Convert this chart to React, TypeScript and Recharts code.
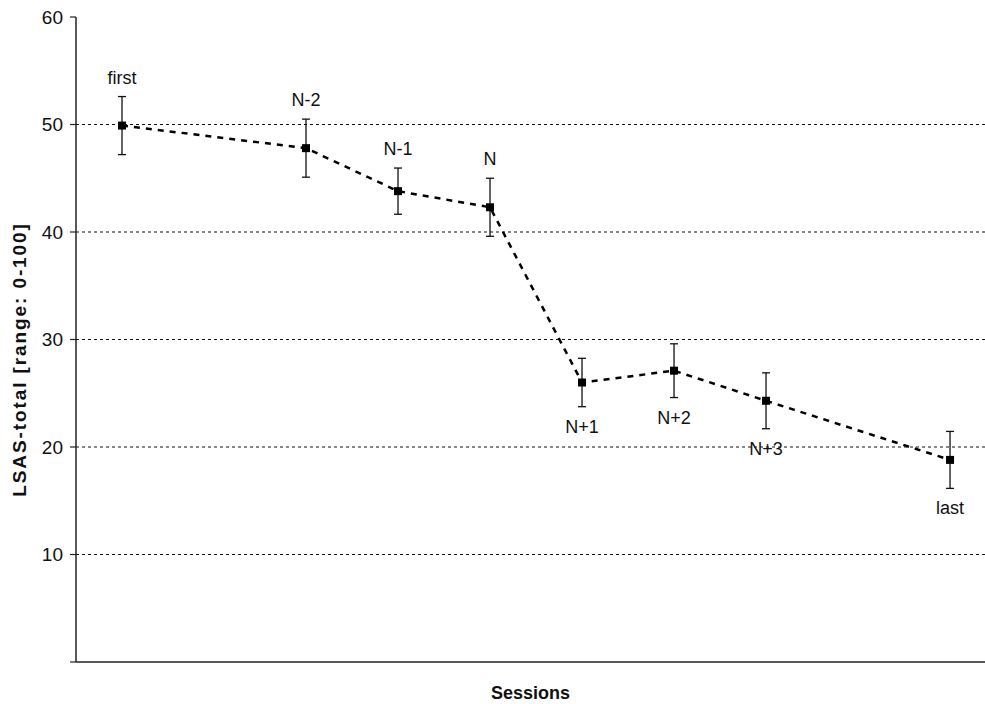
import { ComposedChart, Line, XAxis, YAxis, CartesianGrid, ErrorBar, LabelList } from 'recharts'

const sessions = ['first', 'N-2', 'N-1', 'N', 'N+1', 'N+2', 'N+3', 'last']
const sessionPos = [0, 2, 3, 4, 5, 6, 7, 9]
const lsasMean = [49.9, 47.8, 43.8, 42.3, 26.0, 27.1, 24.3, 18.8]
const lsasErr = [2.7, 2.7, 2.15, 2.7, 2.25, 2.5, 2.6, 2.65]
const labelSide = ['top', 'top', 'top', 'top', 'bottom', 'bottom', 'bottom', 'bottom']
const yTicks = [0, 10, 20, 30, 40, 50, 60]
const gridValues = [10, 20, 30, 40, 50]

const data = sessions.map((name, i) => ({
  name,
  x: sessionPos[i],
  mean: lsasMean[i],
  err: lsasErr[i],
  anchor: labelSide[i] === 'top' ? lsasMean[i] + lsasErr[i] : lsasMean[i] - lsasErr[i],
}))

const font = 'Arial, "Liberation Sans", sans-serif'

function SquareDot(props: any) {
  const { cx, cy } = props
  if (cx == null || cy == null) return null
  return <rect x={cx - 4} y={cy - 4} width={8} height={8} fill="#000" />
}

function SessionLabel(props: any) {
  const { x, y, index } = props
  const top = labelSide[index] === 'top'
  return (
    <text
      x={x}
      y={top ? y - 19 : y + 20}
      textAnchor="middle"
      dominantBaseline="central"
      fontSize={18}
      fontFamily={font}
      fill="#111"
    >
      {sessions[index]}
    </text>
  )
}

function YTitle(props: any) {
  const vb = props.viewBox
  const cx = vb.x + 19
  const cy = vb.y + vb.height / 2 + 20
  return (
    <text
      x={cx}
      y={cy}
      transform={`rotate(-90, ${cx}, ${cy})`}
      textAnchor="middle"
      dominantBaseline="central"
      fontSize={19}
      letterSpacing={1.9}
      fontWeight="bold"
      fontFamily={font}
      fill="#111"
    >
      LSAS-total [range: 0-100]
    </text>
  )
}

export default function App() {
  return (
    <div style={{ width: 985, height: 704, background: '#fff' }}>
      <style>{'body{margin:0}'}</style>
      <ComposedChart width={985} height={704} data={data} margin={{ top: 17, right: 0, bottom: 0, left: 0 }}>
        <CartesianGrid
          horizontal
          vertical={false}
          horizontalValues={gridValues}
          stroke="#111"
          strokeDasharray="3 3"
        />
        <XAxis
          dataKey="x"
          type="number"
          domain={[-0.5, 9.38]}
          allowDataOverflow
          tick={false}
          tickLine={false}
          axisLine={{ stroke: '#222', strokeWidth: 1.5 }}
          height={42}
          label={{ value: 'Sessions', position: 'insideBottom', offset: 5, fontSize: 18, fontWeight: 'bold', fontFamily: font, fill: '#111' }}
        />
        <YAxis
          type="number"
          domain={[0, 60]}
          ticks={yTicks}
          interval={0}
          width={76}
          tickSize={6}
          tickMargin={7}
          tickFormatter={(v: number) => (v === 0 ? '' : String(v))}
          tick={{ fontSize: 19, fontFamily: font, fill: '#111' }}
          tickLine={{ stroke: '#222', strokeWidth: 1.2 }}
          axisLine={{ stroke: '#222', strokeWidth: 1.5 }}
          label={<YTitle />}
        />
        <Line
          dataKey="mean"
          stroke="#000"
          strokeWidth={2.5}
          strokeDasharray="6 6"
          dot={<SquareDot />}
          activeDot={false}
          isAnimationActive={false}
        >
          <ErrorBar dataKey="err" direction="y" width={4} stroke="#111" strokeWidth={1.3} />
        </Line>
        <Line dataKey="anchor" stroke="none" dot={false} activeDot={false} isAnimationActive={false}>
          <LabelList dataKey="name" content={<SessionLabel />} />
        </Line>
      </ComposedChart>
    </div>
  )
}
